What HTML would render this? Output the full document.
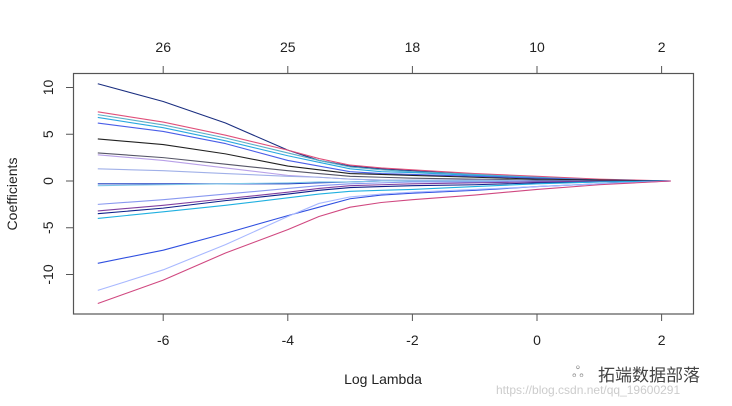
<!DOCTYPE html>
<html><head><meta charset="utf-8"><style>
html,body{margin:0;padding:0;background:#fff;}
svg{display:block;font-family:"Liberation Sans",Arial,sans-serif;}
</style></head><body>
<svg id="chart" width="732" height="406" viewBox="0 0 732 406">
<rect x="73.5" y="73.5" width="620" height="240.5" fill="none" stroke="#555" stroke-width="1.2"/>
<g id="series"></g>
<g id="axes"></g>
<text x="383" y="384" font-size="14" text-anchor="middle" fill="#222">Log Lambda</text>
<text transform="translate(17,194) rotate(-90)" font-size="14" text-anchor="middle" fill="#222">Coefficients</text>
<text x="598" y="381" font-size="17" fill="#444" font-family="'Liberation Sans','Noto Sans CJK SC',sans-serif">拓端数据部落</text>
<text x="572" y="377" font-size="15" fill="#999">ஃ</text>
<text x="496" y="394" font-size="12" fill="#ccc">https://blog.csdn.net/qq_19600291</text>
</svg>
<script>
const lambdas = [-7.05, -6, -5, -4, -3.5, -3, -2.5, -2, -1, 0, 1, 2.15];
const s1 = [10.4, 8.5, 6.2, 3.3, 2.2, 1.6, 1.3, 1.1, 0.7, 0.4, 0.1, 0];
const s2 = [7.4, 6.3, 4.9, 3.3, 2.4, 1.7, 1.4, 1.2, 0.8, 0.5, 0.2, 0];
const s3 = [7.1, 6.0, 4.6, 3.0, 2.2, 1.5, 1.2, 1.0, 0.7, 0.4, 0.1, 0];
const s4 = [6.8, 5.7, 4.3, 2.7, 2.0, 1.3, 1.0, 0.9, 0.6, 0.3, 0.1, 0];
const s5 = [6.2, 5.3, 4.0, 2.2, 1.6, 1.0, 0.8, 0.7, 0.5, 0.3, 0.1, 0];
const s6 = [4.5, 3.9, 2.9, 1.6, 1.2, 0.8, 0.7, 0.6, 0.4, 0.2, 0.1, 0];
const s7 = [3.0, 2.5, 1.8, 1.1, 0.8, 0.5, 0.4, 0.3, 0.2, 0.1, 0, 0];
const s8 = [2.8, 2.2, 1.4, 0.6, 0.4, 0.2, 0.1, 0.1, 0.1, 0, 0, 0];
const s9 = [1.3, 1.1, 0.8, 0.5, 0.4, 0.2, 0.1, 0.1, 0.1, 0, 0, 0];
const s10 = [-0.3, -0.3, -0.3, -0.3, -0.2, -0.1, 0, 0, 0, 0, 0, 0];
const s11 = [-0.5, -0.4, -0.3, -0.2, -0.1, -0.1, 0, 0, 0, 0, 0, 0];
const s12 = [-2.5, -2.0, -1.4, -0.8, -0.5, -0.3, -0.2, -0.1, -0.1, 0, 0, 0];
const s13 = [-3.2, -2.6, -1.9, -1.2, -0.8, -0.5, -0.4, -0.3, -0.2, -0.1, 0, 0];
const s14 = [-3.5, -2.9, -2.1, -1.4, -1.0, -0.7, -0.6, -0.5, -0.4, -0.2, -0.1, 0];
const s15 = [-4.0, -3.3, -2.6, -1.8, -1.4, -1.1, -1.0, -0.9, -0.6, -0.3, -0.1, 0];
const s16 = [-8.8, -7.4, -5.6, -3.7, -2.8, -1.9, -1.5, -1.3, -1.0, -0.6, -0.3, 0];
const s17 = [-11.7, -9.5, -6.8, -3.8, -2.4, -1.7, -1.4, -1.2, -0.9, -0.6, -0.3, 0];
const s18 = [-13.1, -10.6, -7.7, -5.2, -3.8, -2.8, -2.3, -2.0, -1.5, -0.9, -0.4, 0];
const allSeries = [s1,s2,s3,s4,s5,s6,s7,s8,s9,s10,s11,s12,s13,s14,s15,s16,s17,s18];
const colors = ["#1a2e80","#e0507a","#5ab0c8","#2aa8e0","#4a5ee8","#222","#556","#b8a0e8","#a0b0e8","#2040c0","#80c8e8","#8898f0","#8040a0","#10208a","#20b0e0","#3050e0","#a8b8ff","#d04880"];
const xTicks = [-6, -4, -2, 0, 2];
const yTicks = [10, 5, 0, -5, -10];
const topTicks = [-6, -4, -2, 0, 2];
const topLabels = ["26", "25", "18", "10", "2"];

const NS = "http://www.w3.org/2000/svg";
function xs(v){ return 537 + v * 62.3; }
function ys(v){ return 181 - v * 9.35; }
const gS = document.getElementById("series");
allSeries.forEach((s, i) => {
  const p = document.createElementNS(NS, "polyline");
  p.setAttribute("points", s.map((v, j) => xs(lambdas[j]) + "," + ys(v)).join(" "));
  p.setAttribute("fill", "none");
  p.setAttribute("stroke", colors[i]);
  p.setAttribute("stroke-width", "1.1");
  p.setAttribute("stroke-linejoin", "round");
  
  
  gS.appendChild(p);
});
const gA = document.getElementById("axes");
function add(tag, attrs, txt){
  const e = document.createElementNS(NS, tag);
  for (const k in attrs) e.setAttribute(k, attrs[k]);
  if (txt !== undefined) e.textContent = txt;
  gA.appendChild(e);
  return e;
}
xTicks.forEach(t => {
  const l = add("line", {x1: xs(t), x2: xs(t), y1: 314, y2: 321, stroke: "#555"});
  
  
  const tx = add("text", {x: xs(t), y: 345, "font-size": 14, "text-anchor": "middle", fill: "#222"}, String(t));
  
  
});
topTicks.forEach((t, i) => {
  const l = add("line", {x1: xs(t), x2: xs(t), y1: 73, y2: 66, stroke: "#555"});
  
  
  const tx = add("text", {x: xs(t), y: 52, "font-size": 14, "text-anchor": "middle", fill: "#222"}, topLabels[i]);
  
  
});
yTicks.forEach(t => {
  const l = add("line", {x1: 66, x2: 73, y1: ys(t), y2: ys(t), stroke: "#555"});
  
  
  const tx = add("text", {transform: "translate(53," + ys(t) + ") rotate(-90)", "font-size": 14, "text-anchor": "middle", fill: "#222"}, String(t));
  
  
});
</script>
</body></html>
